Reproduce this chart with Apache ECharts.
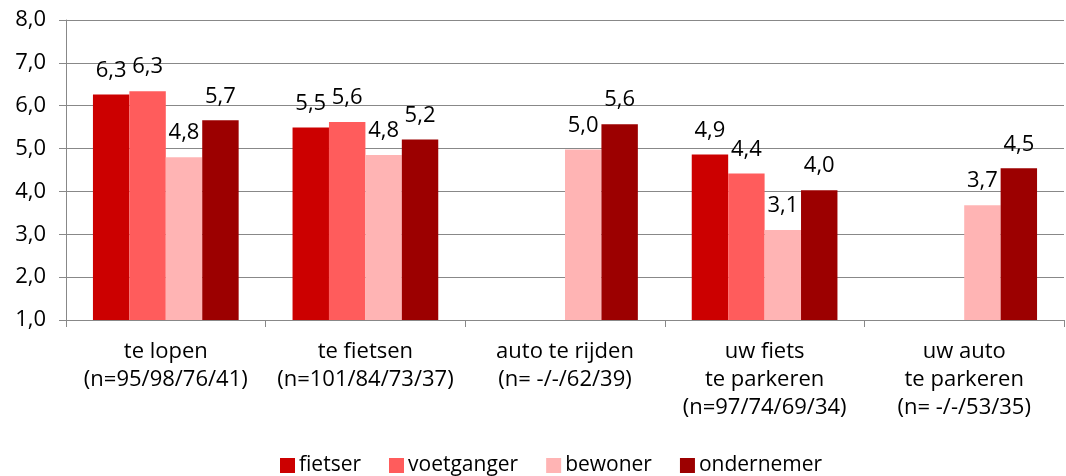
<!DOCTYPE html>
<html>
<head>
<meta charset="utf-8">
<script src="https://cdn.jsdelivr.net/npm/echarts@6/dist/echarts.min.js"></script>
<style>
  html, body { margin: 0; padding: 0; background: #fff; }
  #chart { width: 1066px; height: 476px; }
</style>
</head>
<body>
<div id="chart"></div>
<script>
// categorieen (x-as)
var categories = [
    'te lopen\n(n=95/98/76/41)',
    'te fietsen\n(n=101/84/73/37)',
    'auto te rijden\n(n= -/-/62/39)',
    'uw fiets\nte parkeren\n(n=97/74/69/34)',
    'uw auto\nte parkeren\n(n= -/-/53/35)'
];
var seriesNames = ['fietser', 'voetganger', 'bewoner', 'ondernemer'];
var fietser    = [6.26, 5.49, null, 4.86, null];
var voetganger = [6.34, 5.62, null, 4.42, null];
var bewoner    = [4.80, 4.85, 4.98, 3.10, 3.68];
var ondernemer = [5.66, 5.21, 5.57, 4.03, 4.54];
var yTicks = [1, 2, 3, 4, 5, 6, 7, 8];

var colors = ['#cc0000', '#ff5c5c', '#ffb4b4', '#9c0000'];
var font = '"Open Sans", "Noto Sans", sans-serif';

function komma(v) {
    return Number(v).toFixed(1).replace('.', ',');
}

var chart = echarts.init(document.getElementById('chart'));

function makeSeries(name, data) {
    return {
        name: name,
        type: 'bar',
        data: data,
        barGap: '0%',
        barCategoryGap: '27%',
        label: {
            show: true,
            position: 'top',
            distance: 13,
            color: '#000',
            fontFamily: font,
            fontSize: 22,
            formatter: function (p) { return komma(p.value); }
        }
    };
}

var option = {
    color: colors,
    animation: false,
    textStyle: { fontFamily: font },
    grid: {
        left: 66,
        right: 2,
        top: 20,
        bottom: 156
    },
    legend: {
        data: seriesNames,
        top: 450,
        left: 275,
        icon: 'rect',
        itemWidth: 15,
        itemHeight: 15,
        itemGap: 28,
        textStyle: { fontSize: 21, color: '#000', fontFamily: font, padding: [0, 0, 0, -1] }
    },
    xAxis: {
        type: 'category',
        data: categories,
        axisLine: { lineStyle: { color: '#888', width: 1 } },
        axisTick: { show: true, length: 7, lineStyle: { color: '#888' } },
        axisLabel: {
            interval: 0,
            margin: 18,
            color: '#000',
            fontSize: 22,
            lineHeight: 28,
            fontFamily: font
        }
    },
    yAxis: {
        type: 'value',
        min: yTicks[0],
        max: yTicks[yTicks.length - 1],
        interval: 1,
        axisLine: { show: true, lineStyle: { color: '#888', width: 1 } },
        axisTick: { show: true, length: 7, lineStyle: { color: '#888' } },
        splitLine: { lineStyle: { color: '#888', width: 1 } },
        axisLabel: {
            margin: 20,
            color: '#000',
            fontSize: 22,
            fontFamily: font,
            formatter: function (v) { return komma(v); }
        }
    },
    series: [
        makeSeries(seriesNames[0], fietser),
        makeSeries(seriesNames[1], voetganger),
        makeSeries(seriesNames[2], bewoner),
        makeSeries(seriesNames[3], ondernemer)
    ]
};
chart.setOption(option);
</script>
</body>
</html>
